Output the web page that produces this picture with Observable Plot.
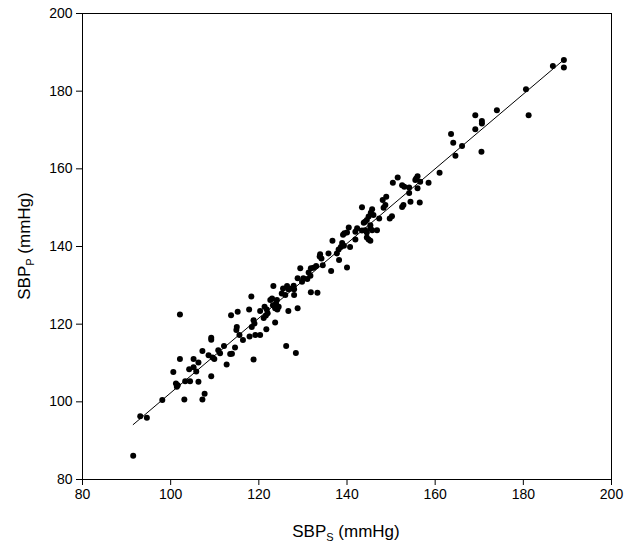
<!DOCTYPE html>
<html>
<head>
<meta charset="utf-8">
<script src="https://cdn.jsdelivr.net/npm/d3@7"></script>
<script src="https://cdn.jsdelivr.net/npm/@observablehq/plot@0.6"></script>
<style>
  html, body { margin: 0; padding: 0; background: #fff; }
  #chart { width: 629px; height: 546px; }
</style>
</head>
<body>
<div id="chart"></div>
<script>
// Axis ticks
const xTicks = [80, 100, 120, 140, 160, 180, 200];
const yTicks = [80, 100, 120, 140, 160, 180, 200];

// SBP_S (x, mmHg) values
const sbpS = [
  91.5, 93.1, 94.6, 98.1, 100.6, 101.2, 101.4, 101.6, 102.1, 102.1, 103.1, 103.3, 104.2, 104.4, 105.2, 105.2, 105.8, 106.3, 106.3,
  107.2, 107.2, 107.7, 108.6, 109.2, 109.2, 109.2, 109.5, 109.9, 110.8, 111.2, 112.1, 112.7, 113.5, 113.9, 113.7, 114.6, 115.0, 114.9,
  115.2, 115.6, 116.4, 117.9, 117.8, 118.3, 118.8, 119.0, 118.4, 118.8, 119.2, 120.3, 120.3, 121.1, 121.7, 121.3, 121.8, 122.0, 121.6,
  122.6, 123.0, 123.3, 123.2, 123.7, 124.2, 124.1, 123.9, 124.5, 123.7, 125.5, 125.2, 126.0, 126.4, 126.7, 126.7, 126.2, 127.9, 127.5,
  128.0, 128.0, 128.4, 128.8, 128.8, 129.4, 129.8, 130.1, 131.3, 131.7, 131.0, 131.8, 131.8, 132.4, 133.0, 133.3, 133.9, 134.2, 133.8,
  134.5, 135.8, 136.4, 136.7, 137.7, 138.1, 138.2, 138.6, 138.9, 139.3,
  139.1, 139.4, 140.0, 140.4, 140.7, 140.0, 141.9, 141.9, 142.3, 143.4, 143.4, 143.8, 144.1, 144.5, 144.1, 144.5, 144.5, 144.9, 145.3,
  144.9, 145.3, 145.3, 145.7, 145.7, 145.4, 146.0, 146.8, 147.3, 148.1, 148.7, 148.3, 148.9, 149.7, 150.2, 150.4, 151.5, 152.5, 152.5,
  152.8, 153.0, 154.1, 154.1, 154.4,
  155.5, 155.7, 156.0, 156.6, 156.0, 156.5, 158.5, 161.0, 163.6, 164.1, 164.6, 166.1, 169.1, 169.1, 170.6, 170.6, 170.5,
  174.0, 180.6, 181.2, 186.7, 189.2, 189.2
];

// SBP_P (y, mmHg) values
const sbpP = [
  86.1, 96.3, 95.9, 100.5, 107.7, 104.7, 103.9, 104.3, 122.5, 111.0, 100.6, 105.3, 108.4, 105.3, 111.0, 108.9, 107.8, 110.1, 105.2,
  113.1, 100.6, 102.1, 112.0, 116.5, 116.0, 106.6, 111.4, 111.0, 113.3, 112.5, 114.4, 109.6, 112.3, 112.4, 122.3, 114.0, 119.3, 118.5,
  123.2, 117.2, 115.9, 116.8, 123.8, 127.1, 121.0, 120.2, 119.3, 110.9, 117.2, 117.2, 123.4, 121.6, 118.7, 124.5, 123.8, 122.8, 122.2,
  126.2, 126.6, 129.8, 124.9, 124.1, 123.8, 126.2, 125.4, 124.5, 120.4, 129.2, 127.9, 127.5, 129.8, 129.0, 123.4, 114.4, 129.9, 129.2,
  129.0, 127.5, 112.6, 131.8, 124.1, 134.4, 130.9, 131.8, 133.3, 132.5, 131.6, 134.4, 128.2, 134.5, 135.0, 128.1, 138.0, 136.9, 137.4,
  135.2, 138.2, 133.7, 141.5, 138.2, 139.2, 136.5, 139.9, 140.9, 140.2,
  143.0, 143.4, 143.6, 144.9, 139.9, 134.6, 141.8, 143.8, 144.7, 144.1, 150.1, 146.1, 146.4, 146.8, 144.2, 143.6, 142.3, 141.8, 141.5,
  147.7, 145.5, 144.7, 144.2, 149.6, 148.7, 148.1, 144.2, 147.2, 152.0, 150.7, 150.0, 152.8, 147.2, 147.8, 156.4, 157.8, 155.8, 150.2,
  150.7, 155.4, 155.2, 153.8, 151.5,
  157.1, 157.5, 158.1, 156.7, 155.0, 151.3, 156.4, 159.0, 169.0, 166.7, 163.4, 165.9, 173.8, 170.2, 172.3, 171.7, 164.4,
  175.1, 180.5, 173.8, 186.5, 188.0, 186.1
];

const data = sbpS.map((s, i) => ({s, p: sbpP[i]}));

const chart = Plot.plot({
  width: 629,
  height: 546,
  marginLeft: 82,
  marginRight: 18,
  marginTop: 13,
  marginBottom: 67,
  style: {fontFamily: "'Liberation Sans', Arial, sans-serif", fontSize: "14px", color: "#000", background: "#fff"},
  x: {domain: [80, 200], ticks: xTicks, tickSize: 6, tickPadding: 4, label: null},
  y: {domain: [80, 200], ticks: yTicks, tickSize: 6, tickPadding: 4, label: null},
  marks: [
    Plot.frame({stroke: "#000", strokeWidth: 1}),
    Plot.dot(data, {x: "s", y: "p", r: 3, fill: "#000", stroke: "none"}),
    Plot.linearRegressionY(data, {x: "s", y: "p", ci: 0, stroke: "#000", strokeWidth: 1})
  ]
});

document.getElementById("chart").appendChild(chart);

// Axis titles with subscripts
const svg = d3.select(chart);
const ff = "'Liberation Sans', Arial, sans-serif";
function title(g, sub) {
  const t = g.append("text")
    .attr("text-anchor", "middle")
    .attr("font-family", ff)
    .attr("font-size", 17)
    .attr("fill", "#000");
  t.append("tspan").text("SBP");
  t.append("tspan").attr("font-size", 11).attr("dy", 4).text(sub);
  t.append("tspan").attr("dy", -4).text(" (mmHg)");
  return t;
}
title(svg.append("g").attr("transform", "translate(346,537)"), "S");
title(svg.append("g").attr("transform", "translate(30,246) rotate(-90)"), "P");
</script>
</body>
</html>
